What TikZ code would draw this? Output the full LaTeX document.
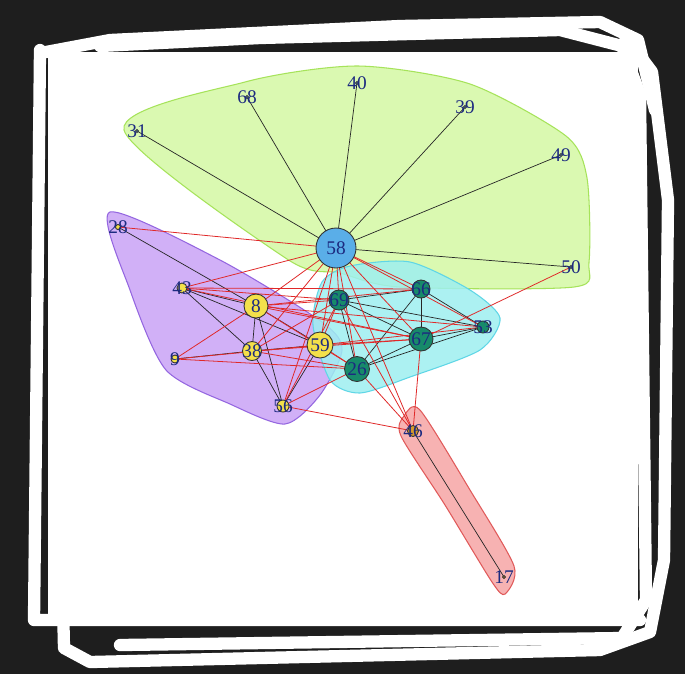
\documentclass[tikz,border=0pt]{standalone}
\usepackage{fontspec}
\setmainfont{Liberation Serif}

\pgfdeclarelayer{boardlayer}
\pgfdeclarelayer{bg}
\pgfdeclarelayer{edgelayer}
\pgfsetlayers{boardlayer,bg,edgelayer,main}

\definecolor{board}{HTML}{1E1E1E}
\definecolor{hullgreen}{HTML}{D4F8A4}
\definecolor{hullgreenline}{HTML}{A6E35A}
\definecolor{hullpurple}{HTML}{C9A3F6}
\definecolor{hullpurpleline}{HTML}{9466E0}
\definecolor{hullcyan}{HTML}{9EEFF0}
\definecolor{hullcyanline}{HTML}{5FD6E6}
\definecolor{hullred}{HTML}{F6A5A5}
\definecolor{hullredline}{HTML}{E05A5A}
\definecolor{vblue}{HTML}{5AAEE8}
\definecolor{vyellow}{HTML}{F3E04A}
\definecolor{vgreen}{HTML}{178A6A}
\definecolor{vorange}{HTML}{D89A2A}
\definecolor{labelblue}{HTML}{1C2A80}
\definecolor{crossred}{HTML}{E02828}

\tikzset{
  vtx/.style={circle, draw=black!80, line width=0.5pt, inner sep=0pt},
  lbl/.style={font=\fontsize{11}{12}\selectfont, text=labelblue, inner sep=0pt},
  inedge/.style={draw=black!85, line width=0.4pt},
  outedge/.style={draw=crossred, line width=0.45pt},
  hull/.style={line width=0.6pt, fill opacity=0.85},
  sketch/.style={draw=white, line width=7pt, line cap=round, line join=round}
}

\begin{document}
\begin{tikzpicture}[x=0.02cm, y=-0.02cm]

    % Board, panel and sketchy frame
    \begin{pgfonlayer}{boardlayer}
        \fill[board] (0,0) rectangle (685,674);
        \fill[white] (48,52) rectangle (638,614);
        \draw[sketch] (40,50) -- (34,620) -- (640,620);
        \draw[sketch] (62,560) -- (64,648) -- (90,662) -- (600,650) -- (650,632) -- (664,560) -- (668,200) -- (652,72) -- (625,36);
        \draw[sketch] (46,52) -- (110,40) -- (400,26) -- (600,22) -- (638,40) -- (655,110);
        \draw[sketch] (100,46) -- (260,38) -- (560,30) -- (622,46) -- (640,95) -- (646,600) -- (622,638) -- (120,645);
    \end{pgfonlayer}
    \useasboundingbox (0,0) rectangle (685,674);

    % Vertices
    \node[vtx, fill=vblue, minimum size=0.8cm, label={[lbl]center:58}] (v58) at (336,248) {};
    \node[vtx, fill=vblue, minimum size=0.06cm, label={[lbl]center:31}] (v31) at (137,131) {};
    \node[vtx, fill=vblue, minimum size=0.06cm, label={[lbl]center:68}] (v68) at (247,97) {};
    \node[vtx, fill=vblue, minimum size=0.06cm, label={[lbl]center:40}] (v40) at (357,83) {};
    \node[vtx, fill=vblue, minimum size=0.06cm, label={[lbl]center:39}] (v39) at (465,107) {};
    \node[vtx, fill=vblue, minimum size=0.06cm, label={[lbl]center:49}] (v49) at (561,155) {};
    \node[vtx, fill=vblue, minimum size=0.06cm, label={[lbl]center:50}] (v50) at (571,267) {};

    \node[vtx, fill=vyellow, minimum size=0.1cm, label={[lbl]center:28}] (v28) at (118,227) {};
    \node[vtx, fill=vyellow, minimum size=0.2cm, label={[lbl]center:43}] (v43) at (182,288) {};
    \node[vtx, fill=vyellow, minimum size=0.48cm, label={[lbl]center:8}] (v8) at (256,306) {};
    \node[vtx, fill=vyellow, minimum size=0.16cm, label={[lbl]center:9}] (v9) at (175,359) {};
    \node[vtx, fill=vyellow, minimum size=0.38cm, label={[lbl]center:38}] (v38) at (252,351) {};
    \node[vtx, fill=vyellow, minimum size=0.52cm, label={[lbl]center:59}] (v59) at (320,345) {};
    \node[vtx, fill=vyellow, minimum size=0.24cm, label={[lbl]center:56}] (v56) at (283,406) {};

    \node[vtx, fill=vgreen, minimum size=0.4cm, label={[lbl]center:69}] (v69) at (339,300) {};
    \node[vtx, fill=vgreen, minimum size=0.36cm, label={[lbl]center:66}] (v66) at (421,289) {};
    \node[vtx, fill=vgreen, minimum size=0.48cm, label={[lbl]center:67}] (v67) at (421,339) {};
    \node[vtx, fill=vgreen, minimum size=0.24cm, label={[lbl]center:53}] (v53) at (483,327) {};
    \node[vtx, fill=vgreen, minimum size=0.5cm, label={[lbl]center:26}] (v26) at (357,369) {};

    \node[vtx, fill=vorange, minimum size=0.22cm, label={[lbl]center:46}] (v46) at (413,431) {};
    \node[vtx, fill=vorange, minimum size=0.06cm, label={[lbl]center:17}] (v17) at (504,577) {};

    % Community hulls
    \begin{pgfonlayer}{bg}
        \draw[hull, fill=hullgreen, draw=hullgreenline] plot[smooth cycle, tension=0.45] coordinates {
            (124,130) (245,82) (358,66) (470,84) (566,136) (587,178)
            (589,262) (574,287) (400,287) (340,273) (287,259)};
        \draw[hull, fill=hullpurple, draw=hullpurpleline] plot[smooth cycle, tension=0.45] coordinates {
            (110,212) (220,260) (322,322) (342,350) (320,395) (285,424)
            (230,404) (166,370) (130,290)};
        \draw[hull, fill=hullcyan, draw=hullcyanline] plot[smooth cycle, tension=0.45] coordinates {
            (322,282) (350,266) (410,262) (470,290) (500,318)
            (480,350) (410,377) (360,393) (330,380) (313,325)};
        \draw[hull, fill=hullred, draw=hullredline] plot[smooth cycle, tension=0.45] coordinates {
            (404,416) (420,410) (470,490) (514,566) (505,594)
            (492,582) (445,505) (401,436)};
    \end{pgfonlayer}

    % Edges
    \begin{pgfonlayer}{edgelayer}
        \foreach \a/\b in {58/31, 58/68, 58/40, 58/39, 58/49, 58/50,
                           28/8, 43/8, 43/59, 43/38, 8/38, 8/59, 8/56, 38/56, 38/59,
                           9/38, 59/56,
                           69/66, 69/67, 69/53, 69/26, 66/67, 66/53, 66/26, 67/53,
                           67/26, 26/53, 46/17}
            \draw[inedge] (v\a.center) -- (v\b.center);
        \foreach \a/\b in {58/28, 58/43, 58/8, 58/38, 58/59, 58/56, 58/69, 58/66,
                           58/67, 58/26, 58/53, 58/46, 50/67,
                           43/69, 43/66, 43/67, 8/69, 8/66, 8/67, 8/53, 8/26,
                           9/8, 9/26, 9/59, 38/69, 38/67, 38/26,
                           59/69, 59/67, 59/26, 59/53, 56/69, 56/26, 56/46,
                           26/46, 67/46, 69/46}
            \draw[outedge] (v\a.center) -- (v\b.center);
    \end{pgfonlayer}

\end{tikzpicture}
\end{document}
